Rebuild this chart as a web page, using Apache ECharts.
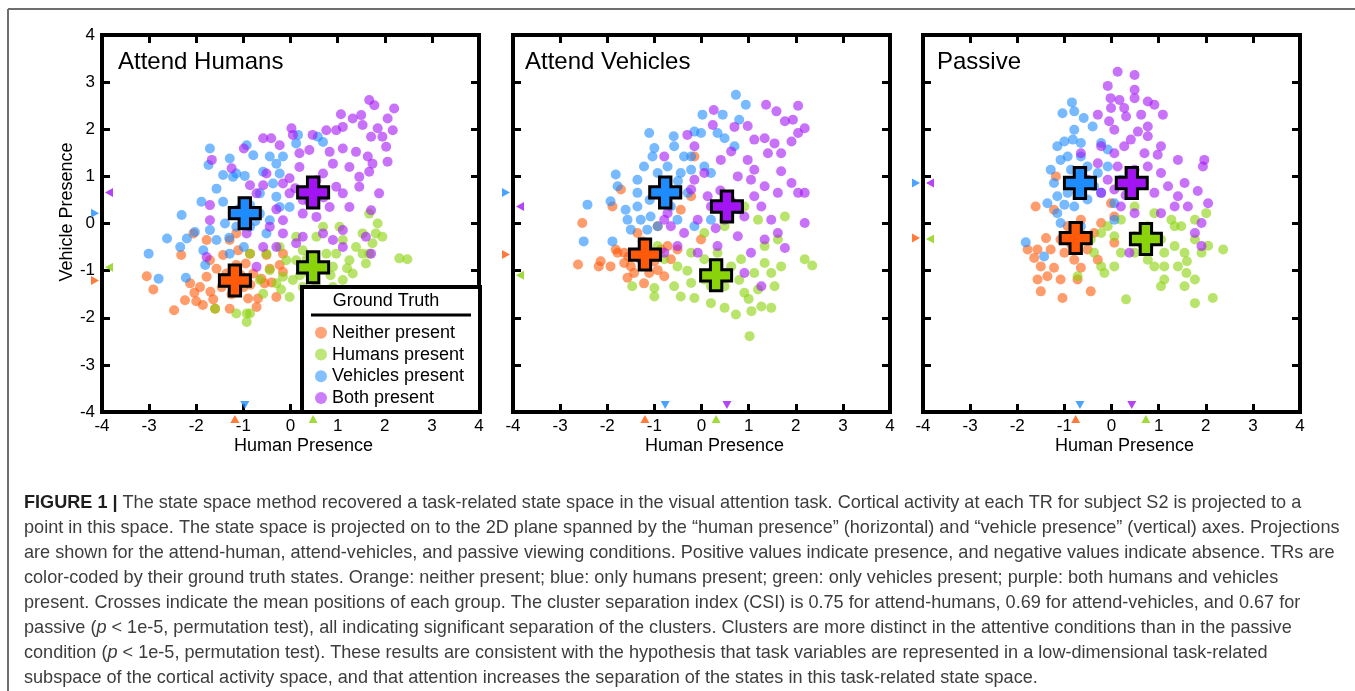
<!DOCTYPE html>
<html>
<head>
<meta charset="utf-8">
<title>Figure 1</title>
<script src="https://cdn.jsdelivr.net/npm/echarts@6/dist/echarts.min.js"></script>
<style>
  html, body { margin: 0; padding: 0; background: #fff; }
  #main { width: 1355px; height: 691px; }
</style>
</head>
<body>
<div id="main"></div>
<script>
// ---- data ----
var groupNames = ['Neither present', 'Humans present', 'Vehicles present', 'Both present'];
var panelTitles = ['Attend Humans', 'Attend Vehicles', 'Passive'];
var tickValues = [-4, -3, -2, -1, 0, 1, 2, 3, 4];

// Attend Humans
var ahNeither = [[-3.05,-1.12],[-2.91,-1.40],[-2.47,-1.84],[-2.32,-0.67],[-2.24,-1.63],[-2.04,-1.47],[-1.86,-1.73],[-1.64,-1.61],[-1.60,-1.81],[-1.29,-1.81],[-1.78,-1.13],[-1.57,-0.96],[-1.43,-0.67],[-1.29,-0.35],[-1.15,-0.21],[-0.72,-1.77],[-0.69,-1.59],[-0.30,-1.56],[-0.44,-0.96],[-0.51,-0.67],[-0.86,-0.64],[-0.79,-1.06],[-0.62,-1.17],[-0.23,-0.88],[-0.16,-0.64],[-2.06,-0.21],[-1.00,-1.35],[-0.90,-1.59],[-1.92,-1.35],[-1.46,-1.35],[-1.71,-0.78],[-1.36,-1.06],[-0.55,-1.27],[-0.16,-1.03],[-1.11,-0.57],[-1.78,-0.35],[-2.13,-1.27],[-1.15,-0.88],[-1.25,-1.50],[-1.05,-1.10],[-0.95,-0.85],[-1.40,-1.20],[-2.00,-1.65],[-1.70,-1.45],[-0.40,-1.25],[-0.85,-1.30]];
var ahHumans = [[2.31,-0.74],[2.48,-0.76],[1.85,0.00],[1.81,-0.21],[1.67,0.21],[1.74,-0.42],[1.53,-0.21],[1.39,-0.50],[1.60,-0.85],[1.32,-1.06],[1.11,-1.20],[0.90,-0.92],[0.76,-0.64],[0.55,-0.28],[0.69,-0.07],[0.26,-0.57],[0.12,-0.78],[-0.16,-1.13],[-0.02,-1.56],[0.26,-1.35],[0.55,-1.35],[-0.30,-1.27],[-0.58,-1.49],[-0.65,-1.20],[-0.86,-0.64],[-0.93,-1.91],[-0.93,-2.09],[-0.86,-1.91],[-1.60,-1.81],[-0.44,-0.99],[0.97,-0.64],[1.25,-0.78],[1.53,-0.64],[1.11,-0.35],[0.90,-1.35],[0.40,-1.06],[-0.09,-0.78],[0.12,-0.28],[-0.23,-0.50],[0.40,-1.63],[1.67,-0.64],[1.95,-0.28],[1.04,-0.07],[-0.51,-0.64],[-1.15,-1.91],[0.20,-1.10],[0.60,-0.90],[0.85,-1.10],[1.20,-0.95],[0.35,-0.75],[-0.20,-1.40],[0.05,-1.20]];
var ahVehicles = [[-1.71,1.59],[-1.74,1.24],[-1.29,1.38],[-1.43,1.03],[-1.22,0.99],[-0.97,1.01],[-0.93,1.66],[-0.79,1.45],[-0.44,1.42],[-0.30,1.27],[-0.23,1.06],[-0.58,1.10],[0.16,1.88],[0.58,1.84],[0.69,1.73],[0.12,1.70],[-0.16,1.42],[-1.89,0.46],[-1.43,0.46],[-0.86,0.39],[-0.65,0.64],[-0.30,0.57],[-0.02,0.35],[-2.31,0.18],[-2.03,-0.18],[-2.20,-0.32],[-2.62,-0.32],[-2.34,-0.50],[-3.01,-0.64],[-2.80,-1.17],[-2.22,-1.15],[-1.85,-0.57],[-1.81,-0.88],[-1.57,-0.35],[-1.39,0.00],[-1.15,-0.07],[-0.86,-0.07],[-0.65,0.21],[-0.44,0.07],[-0.23,0.35],[-0.51,-0.21],[-1.29,-0.64],[-0.99,-0.50],[-1.71,-0.14],[-1.15,1.06],[-1.57,0.74],[-0.37,0.85],[-1.10,0.30],[-0.75,0.05],[-1.30,-0.30]];
var ahBoth = [[1.67,2.62],[1.78,2.51],[2.20,2.44],[1.07,2.32],[1.32,2.23],[1.50,2.30],[2.06,2.23],[2.17,1.98],[1.85,2.02],[1.95,1.84],[1.71,1.84],[1.53,2.09],[1.11,2.05],[0.97,1.98],[0.76,1.98],[0.47,1.88],[0.02,2.02],[0.05,1.88],[-0.58,1.81],[-0.41,1.81],[-0.99,1.59],[-0.23,1.66],[0.19,1.49],[0.40,1.56],[0.83,1.52],[1.11,1.59],[1.39,1.52],[1.64,1.42],[2.03,1.63],[2.06,1.31],[1.74,1.27],[1.67,1.10],[1.46,0.99],[1.25,1.20],[0.90,1.27],[0.69,1.06],[0.19,1.20],[-0.02,0.96],[-0.16,0.85],[-0.02,0.64],[-0.58,0.81],[-0.86,0.81],[-0.72,0.64],[-1.00,0.35],[-1.71,0.39],[-1.67,1.35],[-1.25,1.17],[1.88,0.64],[1.71,0.28],[1.46,0.78],[1.11,0.64],[0.83,0.35],[0.55,0.14],[0.26,0.21],[-0.16,0.07],[-0.44,-0.07],[-0.16,-0.21],[0.26,-0.28],[0.69,-0.21],[1.11,-0.14],[1.11,-0.50],[0.90,-0.35],[0.12,-0.42],[-0.30,-0.50],[-0.58,-0.50],[-0.93,-0.21],[-1.71,0.07],[-1.78,-0.71],[-0.72,-0.92],[-0.51,1.06],[1.25,0.35],[0.97,0.78],[0.55,0.92],[0.26,0.50],[1.60,-0.28],[1.71,-0.64],[0.40,0.45],[0.70,0.55],[-0.30,0.30],[0.10,0.75]];
var ahMeans = [[-1.18,-1.21],[0.48,-0.93],[-0.97,0.22],[0.48,0.66]];

// Attend Vehicles
var avNeither = [[-2.62,-0.87],[-2.53,0.01],[-2.14,-0.80],[-2.18,-0.91],[-1.93,-0.91],[-1.89,0.36],[-1.71,0.72],[-1.82,-0.55],[-1.64,-0.62],[-1.57,-1.15],[-1.50,-0.91],[-1.36,-0.62],[-1.22,-1.27],[-1.11,-1.05],[-1.08,-0.62],[-0.93,-0.99],[-0.79,-1.12],[-0.65,-0.76],[-0.72,-0.48],[-0.44,0.29],[-0.22,0.58],[-0.01,-0.34],[-0.51,-0.55],[-1.36,-0.20],[-1.64,-0.84],[-1.78,-0.62],[-1.43,-1.05],[-1.15,-0.84],[-0.93,-0.06],[-0.15,1.42],[-0.86,-0.55],[-1.25,-0.38],[-1.30,-0.75],[-1.00,-0.80],[-1.55,-0.70],[-1.20,-0.50]];
var avHumans = [[1.02,-2.39],[2.19,-0.76],[2.35,-0.89],[1.69,-0.91],[1.48,-1.05],[1.55,-1.33],[1.48,-1.79],[1.27,-1.76],[1.06,-1.86],[0.73,-1.93],[0.49,-1.79],[0.20,-1.69],[-0.15,-1.58],[-0.44,-1.55],[-0.58,-1.33],[-1.00,-1.55],[-1.00,-1.37],[-1.47,-1.33],[-0.22,-1.26],[0.06,-1.19],[0.49,-1.33],[0.91,-1.47],[1.20,-1.40],[1.12,-1.05],[0.84,-0.76],[0.63,-0.91],[0.34,-0.62],[0.06,-0.76],[-0.22,-0.62],[-0.51,-0.91],[0.06,-0.20],[0.49,-0.06],[1.34,-0.48],[1.62,-0.34],[1.77,0.15],[1.20,0.08],[0.91,0.36],[-0.79,-0.76],[-0.93,-0.48],[1.34,-0.84],[0.49,-1.05],[0.20,-1.33],[0.80,-1.20],[1.00,-1.60],[-0.30,-1.00],[0.30,-0.90]];
var avVehicles = [[0.73,2.73],[0.94,2.52],[0.02,2.31],[0.45,2.31],[0.80,2.20],[-0.15,1.95],[-0.01,1.92],[-1.11,1.92],[-0.59,1.85],[0.34,1.92],[0.49,1.81],[0.70,1.64],[-0.58,1.64],[-1.00,1.60],[-1.04,1.42],[-0.37,1.42],[-0.22,1.42],[0.06,1.21],[0.20,1.07],[-1.22,1.21],[-1.36,0.93],[-1.82,1.04],[-1.78,0.79],[-0.93,1.07],[-0.72,1.21],[-0.44,1.07],[-0.22,1.14],[-2.42,0.40],[-2.50,-0.38],[-1.89,-0.38],[-1.93,0.47],[-1.61,0.29],[-1.57,0.08],[-1.50,-0.13],[-1.29,0.08],[-1.08,0.15],[-0.93,-0.06],[-1.15,-0.13],[-1.36,0.36],[-0.65,0.36],[-0.51,0.08],[-0.15,-0.06],[-1.36,0.65],[-0.29,0.65],[0.20,0.08],[-0.80,0.85],[-1.10,0.50],[-0.50,0.90]];
var avBoth = [[2.05,2.50],[1.37,2.52],[0.26,2.41],[1.59,2.38],[1.77,2.17],[1.94,2.20],[2.19,2.02],[2.05,1.92],[0.98,2.07],[0.70,2.05],[0.24,2.09],[-0.30,1.88],[-0.15,1.64],[-0.79,1.42],[0.41,1.35],[0.63,1.53],[1.12,1.78],[1.34,1.81],[1.55,1.70],[1.91,1.74],[1.69,1.49],[1.41,1.49],[0.98,1.35],[1.12,1.14],[1.69,1.11],[1.91,0.86],[2.19,0.65],[2.19,0.01],[2.05,0.65],[1.62,0.65],[1.34,0.79],[1.05,0.93],[0.77,1.00],[0.06,1.07],[-0.15,0.93],[-0.22,0.72],[-0.51,0.65],[-0.79,0.08],[-0.65,-0.06],[-0.37,-0.20],[-0.08,0.08],[0.20,0.36],[0.49,0.08],[0.91,0.15],[1.27,0.36],[1.48,0.08],[1.62,-0.20],[1.77,-0.52],[1.34,-0.34],[1.05,-0.62],[0.91,-1.05],[1.27,-1.33],[0.77,-0.27],[0.34,-0.48],[-0.08,-0.62],[-0.51,-0.48],[-0.79,-0.62],[0.13,0.58],[0.63,0.47],[1.12,0.58],[-0.72,0.22],[0.40,0.70],[0.80,0.30],[0.30,-0.10]];
var avMeans = [[-1.20,-0.66],[0.31,-1.10],[-0.77,0.66],[0.54,0.36]];

// Passive
var pvNeither = [[-1.61,0.36],[-1.18,1.00],[-1.22,0.29],[-1.39,-0.31],[-1.57,-0.55],[-1.64,-0.73],[-1.57,-1.19],[-1.50,-1.44],[-1.36,-1.12],[-1.22,-0.94],[-1.08,-1.19],[-1.04,-1.58],[-0.44,-1.44],[-1.00,-0.62],[-0.79,-0.77],[-0.65,-0.94],[-0.51,-0.55],[-0.37,-0.20],[-0.22,0.01],[-0.01,0.43],[0.06,0.15],[-0.93,-0.06],[-1.08,-0.34],[-1.29,-0.55],[-0.65,0.08],[0.06,-0.41],[-0.29,-0.77],[-1.50,-0.91],[-1.78,-0.55],[-0.72,-1.19],[-0.85,-0.45],[-0.60,-0.25]];
var pvHumans = [[2.37,-0.55],[2.15,-1.58],[1.77,-1.69],[0.31,-1.61],[2.01,0.22],[2.05,-0.47],[1.77,0.08],[1.77,-1.19],[1.55,-1.33],[1.59,-1.05],[1.41,-0.91],[1.05,-1.33],[1.12,-1.19],[1.12,-0.91],[0.91,-0.91],[0.77,-0.77],[0.49,-0.62],[0.06,-0.91],[-0.15,-1.05],[-0.22,-0.91],[-0.37,-0.62],[-0.72,-1.12],[-0.44,-0.34],[-0.08,-0.06],[0.20,0.08],[0.49,0.36],[0.91,0.22],[1.27,0.08],[1.48,-0.06],[1.77,-0.34],[1.55,-0.62],[1.34,-0.48],[1.05,-0.34],[0.49,-0.27],[0.20,-0.62],[-0.22,-0.20],[1.91,-0.62],[1.34,-0.06],[0.77,-0.06],[0.06,-0.27],[1.12,-0.62],[1.60,-0.80],[0.65,-0.45]];
var pvVehicles = [[-0.84,2.57],[-1.04,2.34],[-0.79,2.38],[-0.59,2.24],[-0.40,2.06],[-0.79,1.99],[-0.82,1.78],[-1.15,1.64],[-1.00,1.74],[-0.65,1.71],[-0.22,1.71],[-0.08,1.57],[-0.93,1.42],[-0.65,1.42],[-1.08,1.35],[-1.29,1.14],[-1.22,0.86],[-1.15,0.58],[-1.36,0.43],[-1.15,0.22],[-1.08,0.01],[-1.82,-0.40],[-1.43,-0.70],[-0.79,0.36],[-0.51,0.51],[-0.22,0.65],[-0.29,1.07],[-0.51,1.21],[-0.08,1.21],[0.20,0.93],[0.06,0.43],[-0.93,0.65],[-0.37,0.79],[-0.86,1.14],[0.06,0.08],[-0.65,-0.06],[-0.70,0.95],[-1.00,0.40]];
var pvBoth = [[0.13,3.22],[0.49,3.15],[-0.08,2.92],[-0.02,2.66],[0.17,2.62],[0.49,2.84],[0.49,2.66],[0.77,2.59],[0.91,2.52],[-0.01,2.45],[0.27,2.45],[-0.29,2.31],[0.31,2.27],[0.63,2.31],[1.09,2.31],[-0.05,2.17],[0.06,1.99],[0.77,2.06],[0.56,1.95],[0.41,1.78],[0.77,1.85],[1.05,1.64],[0.98,1.46],[0.70,1.49],[0.27,1.64],[0.06,1.49],[-0.22,1.64],[-0.65,1.49],[1.41,1.35],[1.97,1.35],[1.94,1.21],[1.55,0.86],[1.83,0.69],[2.05,0.43],[1.91,0.01],[1.62,0.36],[1.41,0.58],[1.20,0.79],[1.05,1.07],[0.77,1.21],[0.49,1.14],[0.13,1.21],[-0.08,0.93],[-0.22,0.65],[0.06,0.72],[0.91,0.65],[1.34,0.36],[1.05,0.22],[0.49,0.22],[0.20,0.36],[1.91,-0.48],[0.38,-0.62],[1.77,-0.20],[-0.51,0.93],[-0.29,1.28],[0.60,0.90],[0.30,0.60]];
var pvMeans = [[-0.76,-0.31],[0.73,-0.33],[-0.67,0.86],[0.43,0.86]];

var captionLines = [
  '{b|FIGURE 1 |} The state space method recovered a task-related state space in the visual attention task. Cortical activity at each TR for subject S2 is projected to a',
  'point in this space. The state space is projected on to the 2D plane spanned by the \u201chuman presence\u201d (horizontal) and \u201cvehicle presence\u201d (vertical) axes. Projections',
  'are shown for the attend-human, attend-vehicles, and passive viewing conditions. Positive values indicate presence, and negative values indicate absence. TRs are',
  'color-coded by their ground truth states. Orange: neither present; blue: only humans present; green: only vehicles present; purple: both humans and vehicles',
  'present. Crosses indicate the mean positions of each group. The cluster separation index (CSI) is 0.75 for attend-humans, 0.69 for attend-vehicles, and 0.67 for',
  'passive ({i|p} < 1e-5, permutation test), all indicating significant separation of the clusters. Clusters are more distinct in the attentive conditions than in the passive',
  'condition ({i|p} < 1e-5, permutation test). These results are consistent with the hypothesis that task variables are represented in a low-dimensional task-related',
  'subspace of the cortical activity space, and that attention increases the separation of the states in this task-related state space.'
];

// ---- chart ----
var FONT = '"Liberation Sans", Arial, Helvetica, sans-serif';
var CAP = 18.1;
var groupColors = ['#ff5a0a', '#8ad20a', '#1e8cff', '#a314f5'];
var crossPath = 'path://M9.5,0H20.5V9.5H30V20.5H20.5V30H9.5V20.5H0V9.5H9.5Z';

var panels = [
  { title: panelTitles[0], groups: [ahNeither, ahHumans, ahVehicles, ahBoth], means: ahMeans },
  { title: panelTitles[1], groups: [avNeither, avHumans, avVehicles, avBoth], means: avMeans },
  { title: panelTitles[2], groups: [pvNeither, pvHumans, pvVehicles, pvBoth], means: pvMeans }
];
var gridLefts = [102, 513, 923];
var gridTop = 35, gridW = 377, gridH = 377;

var myChart = echarts.init(document.getElementById('main'));

var grids = [], xAxes = [], yAxes = [], series = [], graphics = [];
var tickStyle = { inside: true, length: 8, lineStyle: { color: '#000', width: 3 } };
var noLine = { show: false, onZero: false };

panels.forEach(function (p, i) {
  grids.push({ left: gridLefts[i], top: gridTop, width: gridW, height: gridH,
    show: true, borderColor: '#000', borderWidth: 4, backgroundColor: 'transparent' });
  xAxes.push({ type: 'value', gridIndex: i, min: -4, max: 4, interval: 1, position: 'bottom',
    axisLine: noLine, splitLine: { show: false }, axisTick: tickStyle,
    axisLabel: { color: '#000', fontSize: 17, fontFamily: FONT, margin: 6,
      showMinLabel: true, showMaxLabel: true } });
  yAxes.push({ type: 'value', gridIndex: i, min: -4, max: 4, interval: 1, position: 'left',
    axisLine: noLine, splitLine: { show: false }, axisTick: tickStyle,
    axisLabel: { show: i === 0, color: '#000', fontSize: 17, fontFamily: FONT, margin: 7,
      showMinLabel: true, showMaxLabel: true } });
});
// mirrored ticks on top and right
panels.forEach(function (p, i) {
  xAxes.push({ type: 'value', gridIndex: i, min: -4, max: 4, interval: 1, position: 'top',
    axisLine: noLine, splitLine: { show: false }, axisTick: tickStyle, axisLabel: { show: false } });
  yAxes.push({ type: 'value', gridIndex: i, min: -4, max: 4, interval: 1, position: 'right',
    axisLine: noLine, splitLine: { show: false }, axisTick: tickStyle, axisLabel: { show: false } });
});

panels.forEach(function (p, i) {
  p.groups.forEach(function (pts, g) {
    series.push({
      name: groupNames[g], type: 'scatter', xAxisIndex: i, yAxisIndex: i,
      data: pts, symbolSize: 10, z: 2,
      itemStyle: { color: groupColors[g], opacity: 0.6 },
      emphasis: { disabled: true }, silent: true
    });
  });
  // group means as crosses
  series.push({
    type: 'scatter', xAxisIndex: i, yAxisIndex: i, symbol: crossPath, symbolSize: 31, z: 4,
    silent: true,
    data: p.means.map(function (m, g) {
      return { value: m, itemStyle: { color: groupColors[g], borderColor: '#000', borderWidth: 3, opacity: 1 } };
    })
  });
  // mean markers on the axes
  var tri = [];
  p.means.forEach(function (m, g) {
    var vehInside = (g === 2 || g === 3);
    var humInside = (g === 1 || g === 3);
    tri.push({ value: [m[0], -4], symbolRotate: vehInside ? 180 : 0,
      symbolOffset: [0, vehInside ? -7 : 7], itemStyle: { color: groupColors[g] } });
    tri.push({ value: [-4, m[1]], symbolRotate: humInside ? 90 : -90,
      symbolOffset: [humInside ? 7 : -7, 0], itemStyle: { color: groupColors[g] } });
  });
  series.push({
    type: 'scatter', xAxisIndex: i, yAxisIndex: i, symbol: 'triangle', symbolSize: [9, 8],
    clip: false, z: 4, silent: true, data: tri
  });

  graphics.push({ type: 'text', x: gridLefts[i] + (i === 0 ? 16 : i === 1 ? 12 : 14), y: 62, z: 6,
    style: { text: p.title, font: '24px ' + FONT, fill: '#000', verticalAlign: 'middle', textVerticalAlign: 'middle' } });
  graphics.push({ type: 'text', x: gridLefts[i] + gridW / 2 + 13, y: 446, z: 6,
    style: { text: 'Human Presence', font: '18px ' + FONT, fill: '#000',
      align: 'center', textAlign: 'center', verticalAlign: 'middle', textVerticalAlign: 'middle' } });
});

graphics.push({ type: 'text', x: 67, y: 212, rotation: Math.PI / 2, z: 6,
  style: { text: 'Vehicle Presence', font: '18px ' + FONT, fill: '#000',
    align: 'center', textAlign: 'center', verticalAlign: 'middle', textVerticalAlign: 'middle' } });

// legend box
graphics.push({ type: 'rect', z: 5, shape: { x: 302, y: 287, width: 178, height: 125 },
  style: { fill: '#fff', stroke: '#000', lineWidth: 4 } });
graphics.push({ type: 'text', x: 386, y: 301, z: 6,
  style: { text: 'Ground Truth', font: '18px ' + FONT, fill: '#000',
    align: 'center', textAlign: 'center', verticalAlign: 'middle', textVerticalAlign: 'middle' } });
graphics.push({ type: 'line', z: 6, shape: { x1: 311, y1: 315, x2: 471, y2: 315 },
  style: { stroke: '#000', lineWidth: 3 } });

// outer frame
graphics.push({ type: 'line', z: 1, shape: { x1: 8, y1: 9, x2: 1355, y2: 9 }, style: { stroke: '#6e6e6e', lineWidth: 2 } });
graphics.push({ type: 'line', z: 1, shape: { x1: 8, y1: 9, x2: 8, y2: 691 }, style: { stroke: '#6e6e6e', lineWidth: 2 } });

// caption
captionLines.forEach(function (line, k) {
  graphics.push({ type: 'text', x: 24, y: 503 + k * 25, z: 6,
    style: { text: line, font: CAP + 'px ' + FONT, fill: '#3d3d3d',
      verticalAlign: 'middle', textVerticalAlign: 'middle',
      rich: {
        b: { fontWeight: 'bold', fill: '#1e1e1e', fontSize: CAP, fontFamily: FONT },
        i: { fontStyle: 'italic', fontSize: CAP, fontFamily: FONT, fill: '#3d3d3d' }
      } } });
});

var option = {
  animation: false,
  grid: grids,
  xAxis: xAxes,
  yAxis: yAxes,
  legend: {
    orient: 'vertical', left: 310, top: 317, itemWidth: 12, itemHeight: 12, itemGap: 0,
    selectedMode: false, z: 7,
    textStyle: { fontSize: 18, lineHeight: 21.7, color: '#000', fontFamily: FONT },
    data: groupNames.map(function (n, g) {
      return { name: n, icon: 'circle', itemStyle: { color: groupColors[g], opacity: 0.55 } };
    })
  },
  series: series,
  graphic: { elements: graphics }
};
myChart.setOption(option);
</script>
</body>
</html>
